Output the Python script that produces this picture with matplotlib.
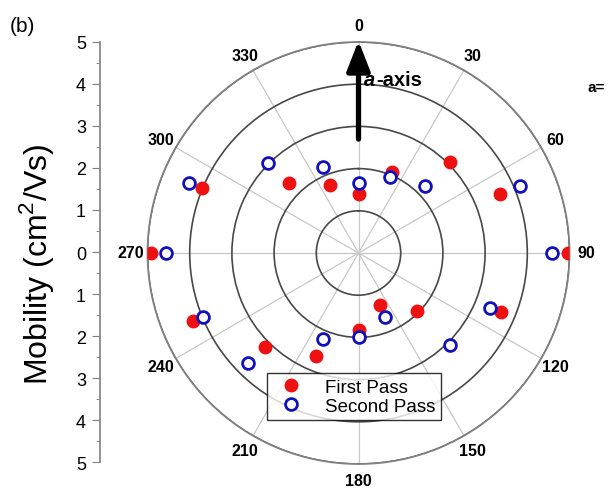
import numpy as np
import matplotlib
matplotlib.use("Agg")
import matplotlib.pyplot as plt
from matplotlib.ticker import FixedLocator, MultipleLocator

plt.rcParams['font.family'] = ['Liberation Sans', 'DejaVu Sans']
plt.rcParams['mathtext.fontset'] = 'custom'
plt.rcParams['mathtext.rm'] = 'Liberation Sans'

# data: in-plane angle (deg, clockwise from a-axis) and mobility (cm2/Vs)
angle_deg = [0, 22.5, 45, 67.5, 90, 112.5, 135, 157.5,
             180, 202.5, 225, 247.5, 270, 292.5, 315, 337.5]
first_pass = [1.40, 2.08, 3.06, 3.63, 4.96, 3.65, 1.95, 1.34,
              1.82, 2.63, 3.15, 4.24, 4.91, 4.01, 2.34, 1.75]
second_pass = [1.65, 1.96, 2.23, 4.15, 4.58, 3.38, 3.07, 1.65,
               1.98, 2.21, 3.70, 3.98, 4.57, 4.35, 3.03, 2.21]

theta_ticks = list(range(0, 360, 30))
theta_labels = [str(t) for t in theta_ticks]
r_rings = [1, 2, 3, 4, 5]
scale_ticks = [5, 4, 3, 2, 1, 0, -1, -2, -3, -4, -5]
scale_labels = ["5", "4", "3", "2", "1", "0", "1", "2", "3", "4", "5"]

W, H = 608, 489
fig = plt.figure(figsize=(W / 100, H / 100), dpi=100)

# polar plot
cx, cy, R = 358.5, 254, 211
ax = fig.add_axes([(cx - R) / W, (H - cy - R) / H, 2 * R / W, 2 * R / H], projection='polar')
ax.set_theta_zero_location('N')
ax.set_theta_direction(-1)
ax.set_ylim(0, 5)
ax.set_yticks(r_rings)
ax.set_yticklabels([])
ax.yaxis.grid(True, color='#484848', lw=1.2)
ax.xaxis.grid(True, color='#c8c8c8', lw=0.9)
ax.spines['polar'].set_color('#808080')
ax.spines['polar'].set_linewidth(1.3)
ax.set_xticks(np.deg2rad(theta_ticks))
ax.set_xticklabels(theta_labels, fontsize=11.5, fontweight='bold')
ax.xaxis.set_minor_locator(FixedLocator(np.deg2rad(np.arange(15, 360, 30))))
ax.tick_params(axis='x', which='major', pad=5, length=0)
ax.tick_params(axis='x', which='minor', length=4, width=1, color='#707070', direction='in')

th = np.deg2rad(angle_deg)
ax.plot(th, first_pass, 'o', ls='none', color='#ee1111', ms=9, mec='#ee1111',
        label='First Pass', zorder=3)
ax.plot(th, second_pass, 'o', ls='none', mfc='white', mec='#1010c0', mew=2, ms=8.5,
        label='Second Pass', zorder=4)

# a-axis arrow
ax.annotate('', xy=(0, 5.03), xytext=(0, 2.7), annotation_clip=False,
            arrowprops=dict(arrowstyle='-|>,head_width=0.35,head_length=0.9', lw=3.8,
                            color='black', mutation_scale=20, shrinkA=0, shrinkB=0),
            zorder=5)
t1 = fig.text(364 / W, 1 - 80 / H, 'a', fontsize=14.5, fontweight='bold',
              fontstyle='italic', va='center', ha='left')
fig.canvas.draw()
bb = t1.get_window_extent()
fig.text(bb.x1 / W + 0.001, 1 - 80 / H, '-axis', fontsize=14.5, fontweight='bold',
         va='center', ha='left')

leg = ax.legend(loc='upper left', bbox_to_anchor=(267 / W, 1 - 374 / H),
                bbox_transform=fig.transFigure, fontsize=13.5, frameon=True,
                fancybox=False, edgecolor='black', handletextpad=0.8,
                borderpad=0.3, labelspacing=0.1, handlelength=2.0, borderaxespad=0)
leg.get_frame().set_linewidth(1.0)

# left mobility scale
axl = fig.add_axes([100 / W, (H - 463) / H, 0.0005, 420 / H])
axl.set_ylim(-5, 5)
axl.set_yticks(scale_ticks)
axl.set_yticklabels(scale_labels, fontsize=13)
axl.yaxis.set_minor_locator(MultipleLocator(0.5))
axl.set_xticks([])
for s in ['top', 'right', 'bottom']:
    axl.spines[s].set_visible(False)
axl.spines['left'].set_color('#808080')
axl.spines['left'].set_linewidth(1.2)
axl.tick_params(axis='y', which='major', length=6, color='#808080', pad=4)
axl.tick_params(axis='y', which='minor', length=3, color='#808080')
axl.patch.set_visible(False)

fig.text(37 / W, 1 - 264 / H, 'Mobility (cm$^2$/Vs)', rotation=90, fontsize=23,
         ha='center', va='center')
fig.text(10 / W, 1 - 26 / H, '(b)', fontsize=15, ha='left', va='center')
fig.text(588 / W, 1 - 88 / H, 'a=', fontsize=11, fontweight='bold', ha='left', va='center')

fig.savefig('out.png', dpi=100)
